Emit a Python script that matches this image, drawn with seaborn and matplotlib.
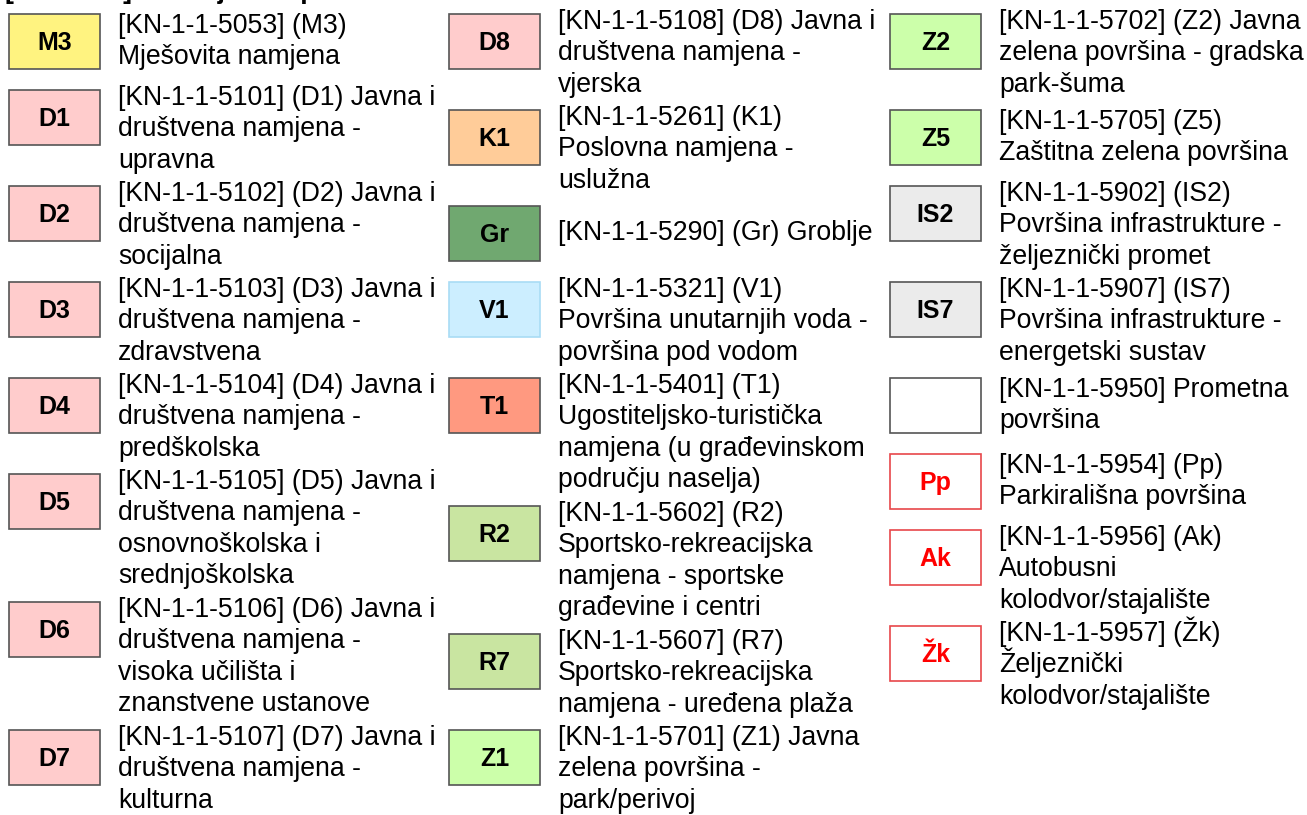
import matplotlib
matplotlib.use("Agg")
import matplotlib.pyplot as plt
from matplotlib.patches import Rectangle
import seaborn as sns
import pandas as pd

# ---------------- data ----------------
title_text = "[KN-1-1-5] Razvoj naše površine"

col1_codes = ["M3", "D1", "D2", "D3", "D4", "D5", "D6", "D7"]
col1_texts = [
    "[KN-1-1-5053] (M3)\nMješovita namjena",
    "[KN-1-1-5101] (D1) Javna i\ndruštvena namjena -\nupravna",
    "[KN-1-1-5102] (D2) Javna i\ndruštvena namjena -\nsocijalna",
    "[KN-1-1-5103] (D3) Javna i\ndruštvena namjena -\nzdravstvena",
    "[KN-1-1-5104] (D4) Javna i\ndruštvena namjena -\npredškolska",
    "[KN-1-1-5105] (D5) Javna i\ndruštvena namjena -\nosnovnoškolska i\nsrednjoškolska",
    "[KN-1-1-5106] (D6) Javna i\ndruštvena namjena -\nvisoka učilišta i\nznanstvene ustanove",
    "[KN-1-1-5107] (D7) Javna i\ndruštvena namjena -\nkulturna",
]

col2_codes = ["D8", "K1", "Gr", "V1", "T1", "R2", "R7", "Z1"]
col2_texts = [
    "[KN-1-1-5108] (D8) Javna i\ndruštvena namjena -\nvjerska",
    "[KN-1-1-5261] (K1)\nPoslovna namjena -\nuslužna",
    "[KN-1-1-5290] (Gr) Groblje",
    "[KN-1-1-5321] (V1)\nPovršina unutarnjih voda -\npovršina pod vodom",
    "[KN-1-1-5401] (T1)\nUgostiteljsko-turistička\nnamjena (u građevinskom\npodručju naselja)",
    "[KN-1-1-5602] (R2)\nSportsko-rekreacijska\nnamjena - sportske\ngrađevine i centri",
    "[KN-1-1-5607] (R7)\nSportsko-rekreacijska\nnamjena - uređena plaža",
    "[KN-1-1-5701] (Z1) Javna\nzelena površina -\npark/perivoj",
]

col3_codes = ["Z2", "Z5", "IS2", "IS7", "", "Pp", "Ak", "Žk"]
col3_texts = [
    "[KN-1-1-5702] (Z2) Javna\nzelena površina - gradska\npark-šuma",
    "[KN-1-1-5705] (Z5)\nZaštitna zelena površina",
    "[KN-1-1-5902] (IS2)\nPovršina infrastrukture -\nželjeznički promet",
    "[KN-1-1-5907] (IS7)\nPovršina infrastrukture -\nenergetski sustav",
    "[KN-1-1-5950] Prometna\npovršina",
    "[KN-1-1-5954] (Pp)\nParkirališna površina",
    "[KN-1-1-5956] (Ak)\nAutobusni\nkolodvor/stajalište",
    "[KN-1-1-5957] (Žk)\nŽeljeznički\nkolodvor/stajalište",
]

# ---------------- styles ----------------
face = {"M3": "#FFF380", "K1": "#FFCC99", "Gr": "#70A870", "V1": "#CCEEFF",
        "T1": "#FF9980", "R2": "#C9E5A1", "R7": "#C9E5A1", "Z1": "#CCFFAA",
        "Z2": "#CCFFAA", "Z5": "#CCFFAA", "IS2": "#EBEBEB", "IS7": "#EBEBEB",
        "": "#FFFFFF", "Pp": "#FFFFFF", "Ak": "#FFFFFF", "Žk": "#FFFFFF"}
for c in ["D1", "D2", "D3", "D4", "D5", "D6", "D7", "D8"]:
    face[c] = "#FFCCCC"
edge = {"V1": "#A9DCF5", "Pp": "#E8474A", "Ak": "#E8474A", "Žk": "#E8474A"}
label_color = {"Pp": "#FF0000", "Ak": "#FF0000", "Žk": "#FF0000"}

rows = []
for col, (codes, texts) in enumerate([(col1_codes, col1_texts),
                                      (col2_codes, col2_texts),
                                      (col3_codes, col3_texts)]):
    for order, (c, t) in enumerate(zip(codes, texts)):
        rows.append({"column": col, "order": order, "code": c, "text": t})
df = pd.DataFrame(rows)

# ---------------- figure ----------------
sns.set_theme(style="white")
plt.rcParams["font.family"] = ["Liberation Sans", "DejaVu Sans"]

W, H = 1307, 815
fig = plt.figure(figsize=(W / 100, H / 100), dpi=100)
ax = fig.add_axes([0, 0, 1, 1])
ax.set_xlim(0, W)
ax.set_ylim(H, 0)
ax.axis("off")

col_x = [9, 449, 890]
box_w, box_h = 91, 55
text_dx = 109
block_pitch = 32
line_pitch = 31.5
fs_text = 19.2
fs_label = 18
px_per_pt = 100 / 72

# heading, cut off at the very top edge as in the reference
ax.text(5, -2.5, title_text, fontsize=fs_text, fontweight="bold", color="black",
        ha="left", va="baseline")

for col, g in df.groupby("column"):
    B = 12
    x0 = col_x[col]
    for _, r in g.sort_values("order").iterrows():
        lines = r["text"].split("\n")
        n = len(lines)
        code = r["code"]
        box_top = B + 2
        ax.add_patch(Rectangle((x0, box_top), box_w, box_h,
                               facecolor=face[code],
                               edgecolor=edge.get(code, "#555555"),
                               linewidth=1.2))
        cy = box_top + box_h / 2
        if code:
            ax.text(x0 + box_w / 2, cy + 0.358 * fs_label * px_per_pt, code,
                    fontsize=fs_label, fontweight="bold",
                    color=label_color.get(code, "black"),
                    ha="center", va="baseline")
        if n <= 2:
            centers = [cy + (i - (n - 1) / 2) * line_pitch for i in range(n)]
            block = 76
        else:
            centers = [B + 10 + i * line_pitch for i in range(n)]
            block = n * block_pitch
        for ln, yc in zip(lines, centers):
            ax.text(x0 + text_dx, yc + 0.26 * fs_text * px_per_pt, ln,
                    fontsize=fs_text, color="black", ha="left", va="baseline")
        B += block

fig.savefig("out.png", dpi=100, facecolor="white")
